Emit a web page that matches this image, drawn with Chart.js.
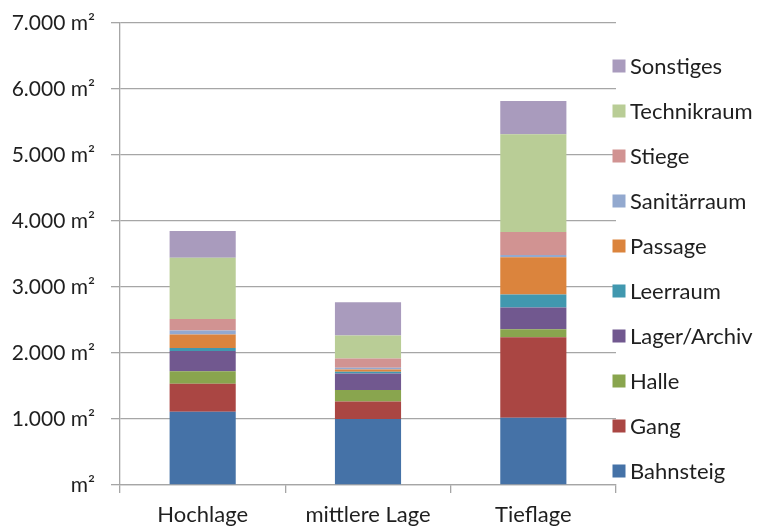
<!DOCTYPE html>
<html>
<head>
<meta charset="utf-8">
<script src="https://cdn.jsdelivr.net/npm/chart.js@4/dist/chart.umd.min.js"></script>
<style>
  html, body { margin: 0; padding: 0; background: #ffffff; }
  canvas { display: block; }
</style>
</head>
<body>
<canvas id="chart" width="760" height="526"></canvas>
<script>
// Floor area per room type, by station level (m²)
const categories = ['Hochlage', 'mittlere Lage', 'Tieflage'];

const bahnsteig   = [1110, 1000, 1020];
const gang        = [425, 265, 1220];
const halle       = [190, 175, 120];
const lagerArchiv = [305, 250, 330];
const leerraum    = [45, 25, 195];
const passage     = [205, 35, 565];
const sanitaer    = [60, 25, 35];
const stiege      = [175, 140, 350];
const technikraum = [930, 350, 1480];
const sonstiges   = [405, 505, 505];

const seriesNames = ['Bahnsteig', 'Gang', 'Halle', 'Lager/Archiv', 'Leerraum',
                     'Passage', 'Sanitärraum', 'Stiege', 'Technikraum', 'Sonstiges'];
const seriesValues = [bahnsteig, gang, halle, lagerArchiv, leerraum,
                      passage, sanitaer, stiege, technikraum, sonstiges];
const seriesColors = ['#4572A7', '#AA4643', '#89A54E', '#71588F', '#4198AF',
                      '#DB843D', '#93A9CF', '#D19392', '#B9CD96', '#A99BBD'];

const yTicks = [0, 1000, 2000, 3000, 4000, 5000, 6000, 7000];

const FONT = 'Lato, "Open Sans", sans-serif';
const TEXT = '#1f1f1f';
const GRID = '#a6a6a6';

function areaLabel(v) {
  if (v === 0) return 'm²';
  return v.toLocaleString('de-DE') + ' m²';
}

// Legend listed top-down in reverse stacking order, placed right of the plot
const sideLegend = {
  id: 'sideLegend',
  afterDraw(chart, args, opts) {
    const ctx = chart.ctx;
    const ds = chart.data.datasets;
    ctx.save();
    ctx.font = opts.font;
    ctx.textBaseline = 'middle';
    ctx.textAlign = 'left';
    let row = 0;
    for (let i = ds.length - 1; i >= 0; i--, row++) {
      const cy = opts.top + row * opts.step;
      ctx.fillStyle = ds[i].backgroundColor;
      ctx.fillRect(opts.x, cy - opts.box / 2, opts.box, opts.box);
      ctx.fillStyle = opts.color;
      ctx.fillText(ds[i].label, opts.textX, cy + 1);
    }
    ctx.restore();
  }
};

new Chart(document.getElementById('chart'), {
  type: 'bar',
  data: {
    labels: categories,
    datasets: seriesNames.map((name, i) => ({
      label: name,
      data: seriesValues[i],
      backgroundColor: seriesColors[i],
      borderWidth: 0,
      categoryPercentage: 1,
      barPercentage: 0.4
    }))
  },
  options: {
    responsive: false,
    animation: false,
    layout: { padding: { top: 23, right: 144, bottom: 0, left: 0 } },
    plugins: {
      legend: { display: false },
      tooltip: { enabled: false },
      sideLegend: {
        x: 612.5, textX: 630, top: 66, step: 45, box: 13,
        font: '22px ' + FONT, color: TEXT
      }
    },
    scales: {
      x: {
        stacked: true,
        grid: { offset: true, drawOnChartArea: false, drawTicks: true, tickLength: 8, color: GRID, lineWidth: 1.3 },
        border: { display: true, color: GRID, width: 1.3 },
        ticks: { color: TEXT, font: { family: FONT, size: 22 }, padding: 9, maxRotation: 0 },
        afterFit(scale) { scale.height = 41; }
      },
      y: {
        stacked: true,
        min: 0,
        max: 7000,
        afterBuildTicks(scale) { scale.ticks = yTicks.map(v => ({ value: v })); },
        grid: { color: GRID, lineWidth: 1.3, drawTicks: true, tickLength: 9 },
        border: { display: true, color: GRID, width: 1.3 },
        ticks: {
          color: TEXT,
          font: { family: FONT, size: 21 },
          padding: 16,
          callback: (v) => areaLabel(v)
        },
        afterFit(scale) {
          scale.width = 120;
          scale.paddingTop = 0;
          scale.paddingBottom = 0;
        }
      }
    }
  },
  plugins: [sideLegend]
});
</script>
</body>
</html>
